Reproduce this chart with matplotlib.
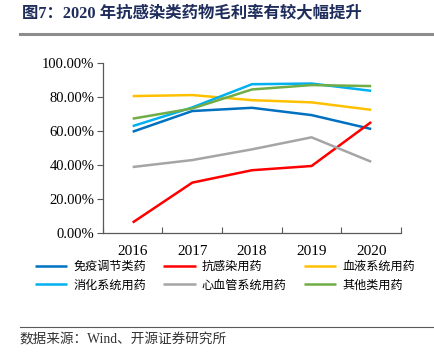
import matplotlib
matplotlib.use("Agg")
import matplotlib.pyplot as plt
from matplotlib.lines import Line2D

plt.rcParams['font.family'] = ['Liberation Serif', 'Noto Sans CJK SC', 'DejaVu Sans']

# 数据
years = ['2016', '2017', '2018', '2019', '2020']
mianyi = [59.6, 71.8, 73.7, 69.4, 61.2]
kangganran = [6.1, 29.6, 36.9, 39.4, 65.3]
xueye = [80.6, 81.2, 78.2, 76.9, 72.5]
xiaohua = [62.9, 73.9, 87.6, 88.0, 83.7]
xinxueguan = [38.8, 42.9, 49.2, 56.3, 41.9]
qita = [67.3, 73.3, 84.5, 87.1, 86.5]

series = [
    ('免疫调节类药', mianyi, '#0070C0'),
    ('抗感染用药', kangganran, '#FF0000'),
    ('血液系统用药', xueye, '#FFC000'),
    ('消化系统用药', xiaohua, '#00B0F0'),
    ('心血管系统用药', xinxueguan, '#A5A5A5'),
    ('其他类用药', qita, '#70AD47'),
]

fig = plt.figure(figsize=(4.34, 3.61), dpi=100)
ax = fig.add_axes([0.237, 0.355, 0.687, 0.47])

x = range(len(years))
lines = {}
for name, vals, color in series:
    ln, = ax.plot(x, vals, color=color, lw=1.8, solid_capstyle='butt')
    lines[name] = ln

ax.set_xlim(-0.5, len(years) - 0.5)
ax.set_ylim(0, 100)
ax.set_yticks([0, 20, 40, 60, 80, 100])
ax.set_yticklabels(['%.2f%%' % v for v in [0, 20, 40, 60, 80, 100]], fontsize=10.5)
ax.set_xticks([i + 0.5 for i in range(-1, len(years))], minor=False)
ax.set_xticklabels([])
ax.set_xticks(list(x), minor=True)
ax.set_xticklabels(years, minor=True, fontsize=11)
ax.tick_params(axis='x', which='major', direction='in', length=4, color='#595959')
ax.tick_params(axis='x', which='minor', length=0, pad=9)
ax.tick_params(axis='y', direction='out', length=4, color='#595959', pad=2)
for s in ['top', 'right']:
    ax.spines[s].set_visible(False)
for s in ['left', 'bottom']:
    ax.spines[s].set_color('#595959')
    ax.spines[s].set_linewidth(0.9)

order = ['免疫调节类药', '消化系统用药', '抗感染用药', '心血管系统用药', '血液系统用药', '其他类用药']
leg = fig.legend([lines[n] for n in order], order, ncol=3, loc='upper left',
                 bbox_to_anchor=(0.055, 0.31), frameon=False,
                 handlelength=2.7, handletextpad=0.5, columnspacing=1.4,
                 labelspacing=0.45, prop={'family': ['Noto Sans CJK SC'], 'size': 8.7})

# 标题
fig.text(0.05, 0.962, '图7：2020 年抗感染类药物毛利率有较大幅提升', fontsize=11.8,
         fontweight='bold', color='#1F2D5C', va='center', ha='left',
         family=['Liberation Serif', 'Noto Sans CJK SC'])
fig.add_artist(Line2D([0.046, 1.0], [0.907, 0.907], color='#8C8C8C', lw=2.2))

# 来源
fig.add_artist(Line2D([0.046, 1.0], [0.095, 0.095], color='#595959', lw=0.8))
fig.text(0.045, 0.058, '数据来源：Wind、开源证券研究所', fontsize=9.8, color='#333333',
         va='center', ha='left', family=['Liberation Serif', 'Noto Sans CJK SC'])

fig.savefig('out.png', dpi=100)
